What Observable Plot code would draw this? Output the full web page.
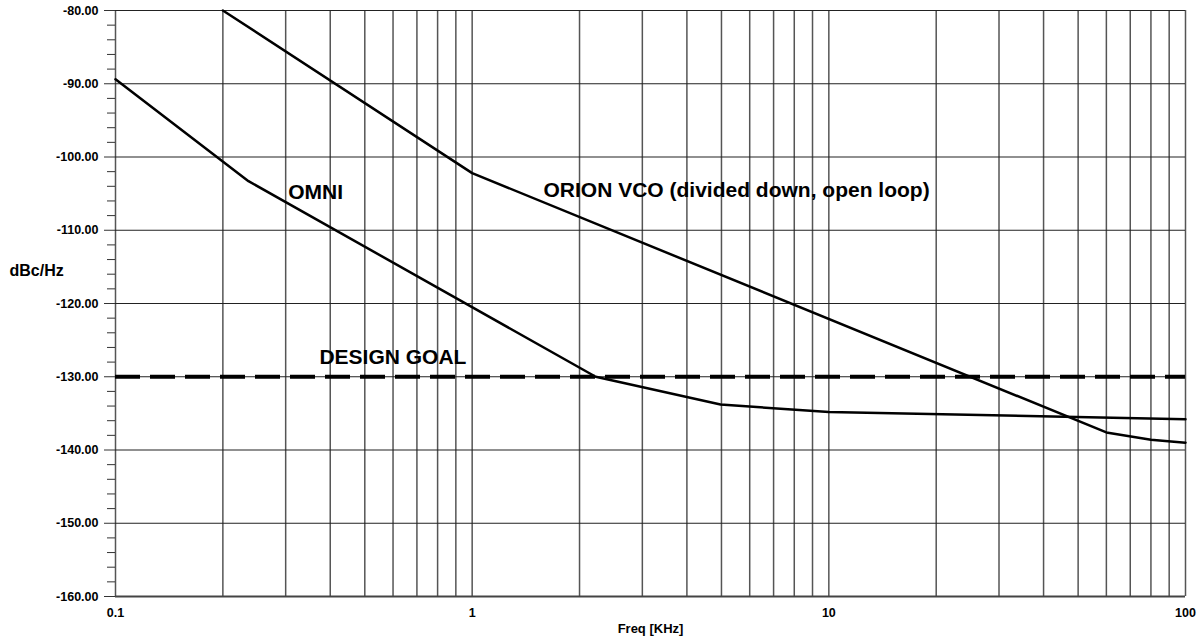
<!DOCTYPE html>
<html>
<head>
<meta charset="utf-8">
<script src="https://cdn.jsdelivr.net/npm/d3@7"></script>
<script src="https://cdn.jsdelivr.net/npm/@observablehq/plot@0.6"></script>
<style>
  html, body { margin: 0; padding: 0; background: #fff; }
  #chart svg { display: block; }
</style>
</head>
<body>
<div id="chart"></div>
<script>
// Series: OMNI
const omniFreq = [0.1, 0.236, 2.22, 4.97, 10, 100];
const omniDb   = [-89.4, -103.3, -130.0, -133.8, -134.8, -135.8];
// Series: ORION VCO (divided down, open loop)
const orionFreq = [0.2, 1, 60, 80, 100];
const orionDb   = [-80.0, -102.2, -137.6, -138.6, -139.0];
// Design goal level
const designGoal = [-130];
// Axis ticks
const xLabelTicks = [0.1, 1, 10, 100];
const yMajorTicks = [-160, -150, -140, -130, -120, -110, -100, -90, -80];
const yMinorTicks = d3.range(-160, -79, 2).filter(v => v % 10 !== 0);
const xGrid = [];
for (const dec of [0.1, 1, 10]) for (let m = 1; m <= 9; m++) xGrid.push(+(dec * m).toPrecision(3));
xGrid.push(100);
// Annotations
const labelText = ["OMNI", "ORION VCO (divided down, open loop)", "DESIGN GOAL"];
const labelFreq = [0.305, 1.585, 0.373];
const labelDb   = [-104.75, -104.6, -127.3];
const yTitle = "dBc/Hz";
const xTitle = "Freq [KHz]";

const omni = omniFreq.map((f, i) => ({f, db: omniDb[i]}));
const orion = orionFreq.map((f, i) => ({f, db: orionDb[i]}));
const labels = labelText.map((t, i) => ({t, f: labelFreq[i], db: labelDb[i]}));

const font = "'Liberation Sans', Arial, Helvetica, sans-serif";

const chart = Plot.plot({
  width: 1199,
  height: 644,
  marginLeft: 115,
  marginRight: 14,
  marginTop: 10,
  marginBottom: 48,
  style: {fontFamily: font, background: "#fff", color: "#000", overflow: "visible"},
  x: {type: "log", domain: [0.1, 100]},
  y: {domain: [-160, -80]},
  marks: [
    Plot.ruleX(xGrid, {stroke: "#555", strokeWidth: 1.5}),
    Plot.ruleY(yMajorTicks, {stroke: "#222", strokeWidth: 1.2}),
    Plot.ruleY([-160], {stroke: "#444", strokeWidth: 2}),
    Plot.axisY({ticks: yMinorTicks, tickSize: 8, tickFormat: () => "", stroke: "#333", label: null}),
    Plot.axisY({ticks: yMajorTicks, tickSize: 11, tickPadding: 6, tickFormat: d => d.toFixed(2),
      fontSize: 12.5, fontWeight: "bold", stroke: "#333", label: null}),
    Plot.axisX({ticks: xLabelTicks, tickSize: 0, tickPadding: 12, tickFormat: d => String(d),
      fontSize: 12.5, fontWeight: "bold", label: null}),
    Plot.ruleY(designGoal, {stroke: "#000", strokeWidth: 4, strokeDasharray: "25,10"}),
    Plot.line(omni, {x: "f", y: "db", stroke: "#000", strokeWidth: 2.5}),
    Plot.line(orion, {x: "f", y: "db", stroke: "#000", strokeWidth: 2.5}),
    Plot.text(labels, {x: "f", y: "db", text: "t", textAnchor: "start", lineAnchor: "middle",
      fontSize: 21, fontWeight: "bold", fill: "#000"}),
    Plot.text([yTitle], {x: () => 0.1, y: () => -115.5, dx: -106, textAnchor: "start",
      fontSize: 16, fontWeight: "bold", fill: "#000"}),
    Plot.text([xTitle], {frameAnchor: "bottom", dy: 36, fontSize: 13, fontWeight: "bold", fill: "#000"})
  ]
});
document.getElementById("chart").appendChild(chart);
</script>
</body>
</html>
